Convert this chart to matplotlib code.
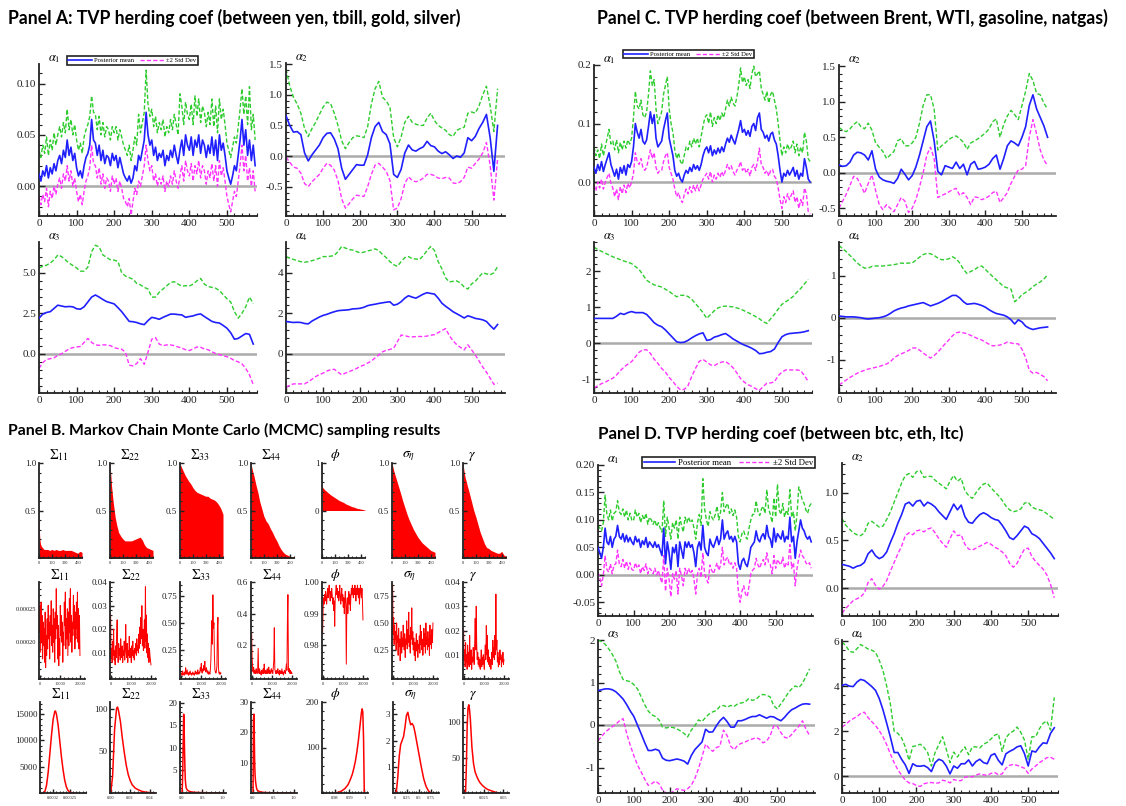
import numpy as np
import matplotlib
matplotlib.use('Agg')
import matplotlib.pyplot as plt
from matplotlib.ticker import AutoMinorLocator
from matplotlib.lines import Line2D

plt.rcParams['font.family'] = ['Liberation Serif', 'DejaVu Serif']
plt.rcParams['mathtext.fontset'] = 'stix'

# ------------------------------------------------------------------ data
# time index step used for the series below (observations)
STEP_FINE = 5
STEP = 10

# Panel A (yen, tbill, gold, silver)
A1_MEAN = [0.012, 0.005, 0.015, 0.010, 0.020, 0.008, 0.018, 0.012, 0.022, 0.015,
           0.025, 0.030, 0.022, 0.035, 0.028, 0.045, 0.030, 0.038, 0.025, 0.032,
           0.018, 0.010, 0.015, 0.008, 0.020, 0.028, 0.032, 0.040, 0.065, 0.045,
           0.042, 0.030, 0.040, 0.025, 0.035, 0.022, 0.030, 0.028, 0.020, 0.032,
           0.025, 0.030, 0.018, 0.028, 0.020, 0.012, 0.008, 0.005, 0.010, 0.003,
           0.008, 0.020, 0.015, 0.030, 0.025, 0.035, 0.045, 0.072, 0.050, 0.040,
           0.045, 0.030, 0.038, 0.025, 0.032, 0.028, 0.035, 0.020, 0.030, 0.025,
           0.035, 0.028, 0.040, 0.030, 0.022, 0.035, 0.045, 0.030, 0.050, 0.040,
           0.035, 0.048, 0.030, 0.045, 0.038, 0.050, 0.032, 0.045, 0.040, 0.028,
           0.040, 0.032, 0.048, 0.030, 0.045, 0.025, 0.050, 0.035, 0.042, 0.030,
           0.015, 0.008, 0.002, 0.010, 0.020, 0.015, 0.030, 0.045, 0.065, 0.040,
           0.055, 0.030, 0.045, 0.025, 0.040, 0.020]
A1_UP = [0.035, 0.028, 0.040, 0.032, 0.048, 0.030, 0.045, 0.035, 0.052, 0.040,
         0.050, 0.058, 0.048, 0.062, 0.052, 0.075, 0.055, 0.065, 0.050, 0.060,
         0.045, 0.035, 0.042, 0.032, 0.048, 0.055, 0.060, 0.068, 0.088, 0.072,
         0.070, 0.055, 0.068, 0.050, 0.062, 0.048, 0.058, 0.055, 0.045, 0.058,
         0.052, 0.058, 0.045, 0.055, 0.048, 0.040, 0.035, 0.030, 0.040, 0.025,
         0.035, 0.048, 0.040, 0.070, 0.052, 0.062, 0.072, 0.113, 0.080, 0.068,
         0.075, 0.058, 0.068, 0.052, 0.062, 0.055, 0.065, 0.048, 0.058, 0.052,
         0.065, 0.055, 0.070, 0.060, 0.050, 0.090, 0.078, 0.060, 0.082, 0.070,
         0.065, 0.080, 0.060, 0.088, 0.068, 0.085, 0.062, 0.078, 0.072, 0.058,
         0.072, 0.060, 0.085, 0.058, 0.078, 0.052, 0.085, 0.065, 0.075, 0.060,
         0.042, 0.035, 0.028, 0.038, 0.048, 0.042, 0.058, 0.075, 0.095, 0.070,
         0.088, 0.060, 0.097, 0.055, 0.070, 0.045]
A1_LO = [-0.010, -0.018, -0.008, -0.015, -0.002, -0.020, -0.005, -0.012, 0.000, -0.008,
         0.002, 0.008, -0.002, 0.012, 0.005, 0.020, 0.005, 0.015, 0.000, 0.008,
         -0.005, -0.015, -0.008, -0.018, -0.005, 0.005, 0.010, 0.018, 0.040, 0.022,
         0.020, 0.008, 0.018, 0.002, 0.012, -0.002, 0.008, 0.005, -0.005, 0.010,
         0.002, 0.008, -0.005, 0.005, -0.002, -0.012, -0.015, -0.020, -0.012, -0.028,
         -0.015, -0.002, -0.008, 0.005, 0.000, 0.010, 0.020, 0.040, 0.025, 0.015,
         0.020, 0.005, 0.012, 0.000, 0.008, 0.002, 0.010, -0.005, 0.005, 0.000,
         0.010, 0.002, 0.015, 0.005, -0.002, 0.010, 0.020, 0.005, 0.025, 0.015,
         0.010, 0.022, 0.005, 0.020, 0.012, 0.025, 0.008, 0.020, 0.015, 0.002,
         0.015, 0.008, 0.022, 0.005, 0.020, 0.000, 0.025, 0.010, 0.018, 0.005,
         -0.010, -0.018, -0.025, -0.015, -0.005, -0.010, 0.005, 0.020, 0.040, 0.015,
         0.030, 0.005, 0.018, 0.000, 0.015, -0.005]

A2_MEAN = [0.66, 0.50, 0.39, 0.40, 0.35, 0.05, -0.08, 0.02, 0.10, 0.18,
           0.30, 0.37, 0.38, 0.28, 0.12, -0.20, -0.38, -0.30, -0.22, -0.14,
           -0.15, -0.15, 0.02, 0.30, 0.48, 0.55, 0.40, 0.35, 0.20, -0.30,
           -0.35, -0.22, 0.05, 0.18, 0.10, 0.08, 0.12, 0.15, 0.24, 0.17,
           0.15, 0.08, 0.04, 0.07, 0.02, -0.04, 0.00, -0.02, 0.05, 0.30,
           0.25, 0.32, 0.45, 0.55, 0.68, 0.30, -0.25, 0.50]
A2_UP = [1.42, 1.15, 0.96, 0.85, 0.70, 0.45, 0.32, 0.45, 0.55, 0.68,
         0.80, 0.88, 0.86, 0.70, 0.50, 0.25, 0.12, 0.22, 0.30, 0.33,
         0.32, 0.30, 0.48, 0.85, 1.10, 1.22, 0.96, 0.90, 0.80, 0.30,
         0.15, 0.31, 0.55, 0.65, 0.55, 0.52, 0.50, 0.50, 0.62, 0.70,
         0.58, 0.50, 0.46, 0.42, 0.35, 0.32, 0.42, 0.45, 0.47, 0.70,
         0.72, 0.70, 0.82, 1.00, 1.14, 0.82, 0.40, 1.10]
A2_LO = [-0.02, -0.10, -0.18, -0.20, -0.28, -0.45, -0.50, -0.42, -0.36, -0.30,
         -0.20, -0.12, -0.15, -0.23, -0.40, -0.70, -0.85, -0.78, -0.70, -0.64,
         -0.65, -0.66, -0.50, -0.30, -0.15, -0.12, -0.18, -0.25, -0.40, -0.88,
         -0.85, -0.70, -0.45, -0.34, -0.40, -0.42, -0.40, -0.36, -0.30, -0.30,
         -0.32, -0.36, -0.37, -0.35, -0.36, -0.44, -0.45, -0.42, -0.35, -0.18,
         -0.20, -0.12, -0.05, 0.05, 0.22, -0.15, -0.72, -0.05]

A3_MEAN = [2.20, 2.45, 2.55, 2.60, 2.80, 3.00, 2.95, 2.90, 2.92, 2.90,
           2.78, 2.75, 2.90, 3.20, 3.50, 3.63, 3.50, 3.35, 3.22, 3.15,
           3.08, 2.85, 2.60, 2.30, 2.00, 1.98, 1.93, 1.85, 1.80, 2.05,
           2.25, 2.20, 2.13, 2.25, 2.35, 2.45, 2.45, 2.42, 2.40, 2.25,
           2.30, 2.34, 2.42, 2.46, 2.30, 2.15, 2.00, 1.93, 1.90, 1.75,
           1.58, 1.30, 0.90, 0.95, 1.10, 1.25, 1.20, 0.60]
A3_UP = [5.30, 5.40, 5.47, 5.60, 5.80, 6.10, 6.00, 5.80, 5.60, 5.45,
         5.30, 5.10, 5.10, 5.35, 6.30, 6.70, 6.60, 6.10, 5.95, 5.80,
         5.78, 5.70, 5.00, 4.80, 4.70, 4.60, 4.35, 4.25, 4.10, 4.00,
         3.50, 3.50, 3.80, 4.00, 4.20, 4.40, 4.45, 4.30, 4.18, 4.20,
         4.18, 4.30, 4.50, 4.65, 4.30, 4.15, 4.10, 4.05, 3.90, 3.65,
         3.40, 3.20, 2.60, 2.20, 2.50, 2.90, 3.50, 3.10]
A3_LO = [-0.90, -0.55, -0.35, -0.30, -0.25, -0.10, 0.00, 0.15, 0.30, 0.38,
         0.42, 0.45, 0.70, 0.95, 0.70, 0.55, 0.52, 0.55, 0.55, 0.50,
         0.38, 0.32, 0.28, 0.10, -0.70, -0.75, -0.60, -0.30, -0.65, 0.10,
         0.90, 1.00, 0.60, 0.50, 0.55, 0.55, 0.50, 0.42, 0.35, 0.25,
         0.20, 0.30, 0.42, 0.40, 0.30, 0.25, 0.12, 0.02, -0.05, -0.12,
         -0.18, -0.28, -0.42, -0.50, -0.62, -0.90, -1.30, -1.90]

A4_MEAN = [1.60, 1.57, 1.55, 1.56, 1.55, 1.50, 1.48, 1.62, 1.72, 1.82,
           1.90, 1.95, 2.02, 2.08, 2.13, 2.15, 2.16, 2.18, 2.22, 2.23,
           2.25, 2.30, 2.38, 2.42, 2.45, 2.49, 2.52, 2.55, 2.57, 2.40,
           2.45, 2.57, 2.75, 2.87, 2.80, 2.75, 2.85, 2.95, 3.02, 2.98,
           2.95, 2.75, 2.50, 2.35, 2.22, 2.08, 1.98, 1.88, 1.77, 1.88,
           1.82, 1.75, 1.72, 1.68, 1.60, 1.40, 1.22, 1.45]
A4_UP = [4.80, 4.72, 4.66, 4.60, 4.55, 4.52, 4.55, 4.60, 4.65, 4.72,
         4.80, 4.80, 4.82, 4.85, 5.05, 5.30, 5.22, 5.15, 5.12, 5.05,
         4.98, 5.02, 5.08, 5.12, 5.18, 5.10, 4.90, 4.75, 4.55, 4.40,
         4.32, 4.55, 4.75, 4.80, 4.70, 4.68, 4.66, 4.85, 5.10, 5.30,
         5.10, 4.55, 4.20, 3.75, 3.55, 3.58, 3.60, 3.50, 3.30, 3.20,
         3.45, 3.58, 3.80, 4.00, 3.95, 3.90, 4.00, 4.30]
A4_LO = [-1.65, -1.55, -1.48, -1.48, -1.48, -1.48, -1.38, -1.25, -1.12, -1.02,
         -0.95, -0.85, -0.78, -0.76, -0.90, -1.03, -0.95, -0.88, -0.80, -0.72,
         -0.62, -0.55, -0.45, -0.35, -0.20, -0.05, 0.10, 0.18, 0.22, 0.28,
         0.60, 0.93, 0.90, 0.85, 0.84, 0.85, 0.86, 0.85, 0.88, 0.92,
         0.95, 1.05, 1.15, 1.25, 0.90, 0.65, 0.45, 0.32, 0.20, 0.45,
         0.20, -0.05, -0.35, -0.65, -0.90, -1.20, -1.50, -1.45]

# Panel C (Brent, WTI, gasoline, natgas)
C1_MEAN = [0.025, 0.015, 0.030, 0.020, 0.035, 0.018, 0.030, 0.040, 0.050, 0.030,
           0.020, 0.010, 0.022, 0.005, 0.025, 0.015, 0.028, 0.012, 0.030, 0.025,
           0.035, 0.060, 0.100, 0.085, 0.075, 0.090, 0.070, 0.065, 0.072, 0.095,
           0.120, 0.100, 0.115, 0.075, 0.060, 0.065, 0.070, 0.090, 0.105, 0.118,
           0.075, 0.060, 0.045, 0.020, 0.010, 0.015, 0.005, 0.000, 0.012, 0.020,
           0.015, 0.025, 0.018, 0.030, 0.022, 0.028, 0.020, 0.030, 0.045, 0.055,
           0.060, 0.050, 0.062, 0.045, 0.055, 0.048, 0.058, 0.050, 0.060, 0.052,
           0.065, 0.075, 0.068, 0.080, 0.072, 0.065, 0.078, 0.090, 0.105, 0.085,
           0.090, 0.080, 0.088, 0.078, 0.095, 0.100, 0.088, 0.110, 0.118, 0.090,
           0.085, 0.075, 0.080, 0.070, 0.082, 0.085, 0.072, 0.065, 0.045, 0.020,
           0.000, 0.015, 0.010, 0.020, 0.012, 0.018, 0.025, 0.010, 0.020, 0.005,
           0.015, 0.010, 0.040, 0.025, 0.005, 0.000]
C1_UP = [0.060, 0.045, 0.055, 0.040, 0.065, 0.045, 0.060, 0.075, 0.090, 0.065,
         0.070, 0.055, 0.072, 0.050, 0.068, 0.055, 0.070, 0.058, 0.072, 0.065,
         0.075, 0.110, 0.155, 0.130, 0.125, 0.140, 0.115, 0.110, 0.120, 0.150,
         0.190, 0.165, 0.175, 0.125, 0.100, 0.110, 0.120, 0.150, 0.165, 0.180,
         0.125, 0.100, 0.085, 0.055, 0.040, 0.050, 0.035, 0.030, 0.045, 0.060,
         0.055, 0.070, 0.060, 0.075, 0.065, 0.075, 0.060, 0.078, 0.095, 0.110,
         0.115, 0.100, 0.120, 0.095, 0.110, 0.100, 0.115, 0.105, 0.118, 0.110,
         0.125, 0.140, 0.130, 0.145, 0.135, 0.130, 0.145, 0.165, 0.195, 0.170,
         0.180, 0.165, 0.175, 0.160, 0.185, 0.198, 0.180, 0.185, 0.190, 0.160,
         0.150, 0.140, 0.155, 0.135, 0.150, 0.155, 0.140, 0.125, 0.100, 0.070,
         0.045, 0.060, 0.050, 0.065, 0.055, 0.060, 0.070, 0.050, 0.065, 0.045,
         0.060, 0.050, 0.085, 0.070, 0.040, 0.035]
C1_LO = [-0.005, -0.015, 0.000, -0.010, 0.005, -0.012, 0.000, 0.008, 0.015, -0.002,
         -0.010, -0.025, -0.012, -0.030, -0.008, -0.020, -0.005, -0.018, -0.002, -0.010,
         0.000, 0.015, 0.050, 0.035, 0.030, 0.040, 0.025, 0.020, 0.025, 0.040,
         0.055, 0.040, 0.050, 0.025, 0.015, 0.020, 0.020, 0.035, 0.045, 0.050,
         0.025, 0.015, 0.005, -0.012, -0.025, -0.018, -0.030, -0.035, -0.022, -0.012,
         -0.020, -0.008, -0.018, -0.005, -0.015, -0.005, -0.015, -0.005, 0.005, 0.010,
         0.015, 0.005, 0.018, 0.000, 0.012, 0.005, 0.015, 0.008, 0.018, 0.010,
         0.020, 0.030, 0.022, 0.028, 0.018, 0.012, 0.020, 0.025, 0.035, 0.020,
         0.025, 0.015, 0.022, 0.010, 0.025, 0.030, 0.020, 0.035, 0.058, 0.030,
         0.025, 0.015, 0.020, 0.010, 0.020, 0.022, 0.010, 0.005, -0.010, -0.030,
         -0.045, -0.025, -0.035, -0.020, -0.030, -0.022, -0.015, -0.035, -0.025, -0.045,
         -0.030, -0.040, -0.010, -0.020, -0.050, -0.055]

C2_MEAN = [0.11, 0.09, 0.10, 0.15, 0.25, 0.29, 0.28, 0.25, 0.18, 0.31,
           0.05, -0.06, -0.10, -0.12, -0.13, -0.15, -0.08, 0.05, -0.02, -0.10,
           -0.04, 0.08, 0.25, 0.45, 0.65, 0.73, 0.45, 0.02, -0.03, 0.10,
           0.08, 0.06, 0.15, 0.06, 0.12, -0.03, 0.12, 0.16, 0.05, 0.06,
           0.08, 0.12, 0.20, 0.25, 0.05, 0.20, 0.38, 0.45, 0.42, 0.38,
           0.50, 0.65, 0.95, 1.10, 0.90, 0.78, 0.66, 0.50]
C2_UP = [0.64, 0.60, 0.58, 0.62, 0.68, 0.72, 0.65, 0.62, 0.70, 0.60,
         0.42, 0.36, 0.30, 0.20, 0.25, 0.30, 0.45, 0.48, 0.38, 0.38,
         0.42, 0.50, 0.70, 0.95, 1.10, 1.10, 0.90, 0.32, 0.38, 0.42,
         0.47, 0.50, 0.52, 0.48, 0.43, 0.33, 0.42, 0.45, 0.48, 0.52,
         0.56, 0.62, 0.72, 0.76, 0.50, 0.68, 0.80, 0.88, 0.82, 0.75,
         0.95, 1.15, 1.40, 1.30, 1.12, 1.10, 0.98, 0.90]
C2_LO = [-0.50, -0.40, -0.30, -0.18, -0.05, -0.08, -0.18, -0.29, -0.15, -0.03,
         -0.25, -0.45, -0.52, -0.45, -0.50, -0.55, -0.45, -0.35, -0.40, -0.56,
         -0.50, -0.38, -0.20, 0.00, 0.25, 0.36, 0.20, -0.35, -0.32, -0.30,
         -0.27, -0.24, -0.22, -0.32, -0.28, -0.35, -0.45, -0.34, -0.35, -0.38,
         -0.36, -0.33, -0.28, -0.26, -0.42, -0.35, -0.28, -0.15, -0.05, 0.04,
         0.05, 0.10, 0.50, 0.75, 0.55, 0.32, 0.18, 0.10]

C3_MEAN = [0.69, 0.69, 0.69, 0.69, 0.69, 0.69, 0.75, 0.83, 0.80, 0.85,
           0.88, 0.85, 0.85, 0.85, 0.80, 0.69, 0.57, 0.50, 0.46, 0.37,
           0.26, 0.15, 0.04, 0.02, 0.03, 0.08, 0.15, 0.21, 0.26, 0.29,
           0.08, 0.10, 0.17, 0.20, 0.24, 0.27, 0.20, 0.12, 0.06, 0.00,
           -0.05, -0.09, -0.14, -0.20, -0.29, -0.28, -0.25, -0.23, -0.16, 0.02,
           0.18, 0.24, 0.27, 0.28, 0.29, 0.30, 0.32, 0.35]
C3_UP = [2.67, 2.60, 2.55, 2.50, 2.45, 2.40, 2.36, 2.32, 2.28, 2.25,
         2.21, 2.13, 2.05, 1.90, 1.75, 1.68, 1.62, 1.59, 1.56, 1.50,
         1.44, 1.36, 1.29, 1.33, 1.33, 1.30, 1.22, 1.10, 0.98, 0.85,
         0.69, 0.80, 0.90, 0.98, 1.02, 1.03, 1.02, 1.01, 0.98, 0.95,
         0.90, 0.85, 0.80, 0.74, 0.68, 0.60, 0.55, 0.68, 0.80, 0.95,
         1.08, 1.15, 1.22, 1.30, 1.42, 1.52, 1.65, 1.77]
C3_LO = [-1.24, -1.18, -1.12, -1.08, -1.02, -0.97, -0.88, -0.76, -0.66, -0.58,
         -0.51, -0.38, -0.25, -0.18, -0.18, -0.28, -0.44, -0.56, -0.70, -0.80,
         -0.95, -1.06, -1.20, -1.29, -1.28, -1.18, -0.92, -0.70, -0.50, -0.45,
         -0.52, -0.60, -0.62, -0.56, -0.52, -0.51, -0.58, -0.68, -0.82, -0.98,
         -1.08, -1.15, -1.20, -1.26, -1.31, -1.20, -1.11, -1.10, -1.07, -0.90,
         -0.80, -0.74, -0.74, -0.74, -0.74, -0.76, -0.90, -1.06]

C4_MEAN = [0.04, 0.03, 0.02, 0.02, 0.02, 0.01, 0.00, -0.02, -0.03, -0.02,
           -0.01, 0.00, 0.02, 0.05, 0.10, 0.16, 0.20, 0.23, 0.25, 0.28,
           0.30, 0.32, 0.34, 0.36, 0.32, 0.28, 0.31, 0.34, 0.38, 0.43,
           0.48, 0.53, 0.53, 0.47, 0.38, 0.32, 0.33, 0.34, 0.32, 0.29,
           0.25, 0.19, 0.14, 0.10, 0.08, 0.06, 0.02, -0.05, -0.15, -0.05,
           -0.10, -0.20, -0.25, -0.28, -0.26, -0.24, -0.23, -0.22]
C4_UP = [1.72, 1.64, 1.57, 1.48, 1.39, 1.30, 1.23, 1.18, 1.18, 1.22,
         1.23, 1.23, 1.23, 1.24, 1.25, 1.26, 1.28, 1.30, 1.29, 1.30,
         1.30, 1.37, 1.44, 1.50, 1.53, 1.52, 1.48, 1.42, 1.38, 1.38,
         1.40, 1.45, 1.40, 1.30, 1.15, 1.05, 1.10, 1.14, 1.20, 1.23,
         1.15, 1.06, 0.98, 0.90, 0.82, 0.74, 0.71, 0.68, 0.38, 0.45,
         0.55, 0.60, 0.66, 0.74, 0.80, 0.85, 0.92, 1.02]
C4_LO = [-1.60, -1.54, -1.48, -1.42, -1.37, -1.32, -1.28, -1.25, -1.22, -1.20,
         -1.18, -1.16, -1.13, -1.10, -1.05, -0.96, -0.90, -0.86, -0.82, -0.78,
         -0.72, -0.72, -0.77, -0.84, -0.90, -0.96, -0.90, -0.82, -0.72, -0.62,
         -0.53, -0.43, -0.36, -0.34, -0.36, -0.38, -0.42, -0.46, -0.50, -0.53,
         -0.58, -0.63, -0.67, -0.66, -0.65, -0.62, -0.58, -0.60, -0.62, -0.62,
         -0.75, -0.95, -1.25, -1.32, -1.30, -1.35, -1.40, -1.50]

# Panel D (btc, eth, ltc)
D1_MEAN = [0.050, 0.040, 0.030, 0.050, 0.085, 0.060, 0.055, 0.070, 0.050, 0.065,
           0.070, 0.090, 0.070, 0.065, 0.075, 0.060, 0.072, 0.060, 0.068, 0.060,
           0.055, 0.070, 0.060, 0.065, 0.050, 0.062, 0.055, 0.068, 0.050, 0.060,
           0.055, 0.050, 0.060, 0.050, 0.055, 0.045, 0.035, 0.085, 0.020, 0.060,
           0.040, 0.010, 0.050, 0.040, 0.055, 0.015, 0.060, 0.045, 0.030, 0.060,
           0.050, 0.060, 0.050, 0.055, 0.040, 0.015, 0.050, 0.060, 0.045, 0.090,
           0.050, 0.040, 0.035, 0.065, 0.055, 0.050, 0.060, 0.070, 0.055, 0.065,
           0.100, 0.065, 0.075, 0.080, 0.065, 0.070, 0.060, 0.070, 0.060, 0.020,
           0.010, 0.025, 0.030, 0.020, 0.015, 0.030, 0.050, 0.055, 0.060, 0.080,
           0.065, 0.060, 0.070, 0.075, 0.065, 0.090, 0.070, 0.065, 0.050, 0.085,
           0.060, 0.075, 0.070, 0.065, 0.080, 0.060, 0.070, 0.065, 0.105, 0.060,
           0.070, 0.030, 0.060, 0.080, 0.100, 0.085, 0.080, 0.070, 0.065, 0.070,
           0.060]
D1_UP = [0.090, 0.085, 0.080, 0.095, 0.145, 0.110, 0.100, 0.118, 0.098, 0.112,
         0.115, 0.135, 0.115, 0.110, 0.120, 0.105, 0.118, 0.100, 0.112, 0.100,
         0.098, 0.118, 0.105, 0.112, 0.095, 0.108, 0.100, 0.112, 0.092, 0.105,
         0.100, 0.092, 0.100, 0.088, 0.095, 0.085, 0.078, 0.135, 0.070, 0.105,
         0.085, 0.065, 0.095, 0.085, 0.100, 0.065, 0.105, 0.090, 0.078, 0.105,
         0.095, 0.105, 0.095, 0.100, 0.085, 0.065, 0.095, 0.110, 0.090, 0.175,
         0.120, 0.100, 0.088, 0.115, 0.105, 0.100, 0.110, 0.125, 0.100, 0.115,
         0.150, 0.115, 0.125, 0.130, 0.112, 0.120, 0.108, 0.118, 0.105, 0.070,
         0.060, 0.075, 0.080, 0.070, 0.065, 0.085, 0.100, 0.110, 0.110, 0.135,
         0.115, 0.108, 0.120, 0.125, 0.112, 0.155, 0.120, 0.110, 0.095, 0.140,
         0.105, 0.165, 0.118, 0.110, 0.130, 0.105, 0.118, 0.110, 0.155, 0.105,
         0.115, 0.080, 0.110, 0.160, 0.150, 0.135, 0.130, 0.118, 0.112, 0.125,
         0.130]
D1_LO = [0.005, -0.005, -0.020, 0.000, 0.035, 0.010, 0.005, 0.020, 0.002, 0.018,
         0.020, 0.045, 0.020, 0.015, 0.028, 0.012, 0.025, 0.010, 0.022, 0.010,
         0.008, 0.022, 0.012, 0.018, 0.002, 0.015, 0.008, 0.020, 0.002, 0.012,
         0.008, 0.002, 0.012, 0.000, 0.008, -0.005, -0.015, 0.035, -0.030, 0.012,
         -0.008, -0.040, 0.002, -0.008, 0.008, -0.035, 0.012, -0.002, -0.020, 0.012,
         0.002, 0.012, 0.002, 0.008, -0.008, -0.035, 0.002, 0.012, -0.005, 0.040,
         0.002, -0.008, -0.015, 0.018, 0.008, 0.002, 0.012, 0.022, 0.008, 0.018,
         0.050, 0.018, 0.028, 0.032, 0.018, 0.022, 0.012, 0.022, 0.012, -0.030,
         -0.050, -0.030, -0.020, -0.035, -0.040, -0.020, 0.002, 0.008, 0.012, 0.030,
         0.018, 0.012, 0.022, 0.028, 0.018, 0.040, 0.022, 0.018, 0.002, 0.035,
         0.012, 0.028, 0.022, 0.018, 0.032, 0.012, 0.022, 0.018, 0.055, 0.012,
         0.022, -0.020, 0.012, 0.030, 0.045, 0.035, 0.030, 0.022, 0.018, 0.022,
         0.012]

D2_MEAN = [0.25, 0.24, 0.23, 0.21, 0.23, 0.24, 0.27, 0.36, 0.40, 0.34,
           0.31, 0.33, 0.38, 0.48, 0.57, 0.68, 0.77, 0.88, 0.90, 0.86,
           0.91, 0.92, 0.86, 0.90, 0.88, 0.85, 0.80, 0.76, 0.72, 0.80,
           0.88, 0.82, 0.87, 0.75, 0.69, 0.68, 0.73, 0.77, 0.79, 0.77,
           0.74, 0.72, 0.71, 0.66, 0.60, 0.53, 0.51, 0.55, 0.60, 0.65,
           0.63, 0.57, 0.55, 0.52, 0.47, 0.42, 0.37, 0.31]
D2_UP = [0.73, 0.66, 0.62, 0.58, 0.56, 0.55, 0.58, 0.68, 0.70, 0.67,
         0.64, 0.65, 0.72, 0.80, 0.90, 1.00, 1.10, 1.18, 1.20, 1.16,
         1.22, 1.23, 1.16, 1.17, 1.17, 1.13, 1.10, 1.07, 1.04, 1.12,
         1.18, 1.12, 1.15, 1.02, 0.97, 0.94, 1.00, 1.05, 1.09, 1.10,
         1.05, 1.01, 0.97, 0.92, 0.86, 0.82, 0.80, 0.81, 0.83, 0.89,
         0.90, 0.85, 0.83, 0.82, 0.81, 0.78, 0.75, 0.72]
D2_LO = [-0.26, -0.21, -0.17, -0.13, -0.11, -0.09, -0.05, 0.06, 0.10, 0.03,
         -0.01, 0.02, 0.08, 0.18, 0.27, 0.36, 0.44, 0.55, 0.58, 0.56,
         0.60, 0.61, 0.59, 0.62, 0.63, 0.58, 0.52, 0.47, 0.43, 0.52,
         0.60, 0.55, 0.56, 0.46, 0.41, 0.40, 0.42, 0.44, 0.46, 0.48,
         0.46, 0.43, 0.41, 0.38, 0.34, 0.26, 0.22, 0.26, 0.34, 0.41,
         0.42, 0.33, 0.28, 0.24, 0.20, 0.14, 0.04, -0.10]

D3_MEAN = [0.81, 0.83, 0.85, 0.85, 0.83, 0.78, 0.70, 0.61, 0.48, 0.33,
           0.20, 0.00, -0.20, -0.41, -0.60, -0.60, -0.57, -0.60, -0.78, -0.83,
           -0.84, -0.82, -0.80, -0.82, -0.85, -0.92, -0.72, -0.58, -0.49, -0.40,
           -0.10, -0.17, -0.16, -0.02, 0.10, 0.18, 0.08, -0.05, -0.05, 0.10,
           0.10, 0.13, 0.17, 0.20, 0.20, 0.24, 0.20, 0.16, 0.20, 0.19,
           0.14, 0.10, 0.18, 0.28, 0.36, 0.40, 0.45, 0.49, 0.50, 0.49]
D3_UP = [2.00, 1.96, 1.90, 1.79, 1.66, 1.50, 1.25, 1.07, 1.04, 1.02,
         0.95, 0.85, 0.67, 0.48, 0.33, 0.24, 0.20, 0.12, -0.05, -0.07,
         -0.05, -0.06, -0.09, -0.14, -0.20, -0.28, -0.12, -0.02, 0.12, 0.08,
         0.18, 0.26, 0.31, 0.34, 0.44, 0.46, 0.42, 0.46, 0.44, 0.50,
         0.52, 0.54, 0.62, 0.58, 0.60, 0.68, 0.72, 0.70, 0.66, 0.45,
         0.38, 0.50, 0.62, 0.75, 0.85, 0.92, 0.88, 0.98, 1.15, 1.32]
D3_LO = [-0.37, -0.27, -0.17, -0.10, -0.04, 0.02, 0.10, 0.15, -0.20, -0.48,
         -0.72, -0.94, -1.10, -1.27, -1.42, -1.38, -1.32, -1.38, -1.53, -1.60,
         -1.62, -1.56, -1.50, -1.52, -1.54, -1.50, -1.42, -1.26, -1.03, -0.75,
         -0.45, -0.55, -0.62, -0.53, -0.50, -0.12, -0.25, -0.50, -0.58, -0.47,
         -0.43, -0.40, -0.36, -0.33, -0.30, -0.33, -0.42, -0.38, -0.25, -0.02,
         -0.03, -0.18, -0.29, -0.31, -0.22, -0.12, -0.03, 0.10, -0.10, -0.25]

D4_MEAN = [4.03, 4.08, 4.00, 3.98, 4.18, 4.30, 4.25, 4.12, 3.98, 3.81,
           3.45, 2.95, 2.35, 1.73, 1.05, 1.05, 0.75, 0.50, 0.12, 0.55,
           0.45, 0.44, 0.47, 0.38, 0.20, 0.60, 0.75, 0.68, 0.45, 0.10,
           0.45, 0.35, 0.55, 0.55, 0.72, 0.45, 0.65, 0.75, 0.60, 0.55,
           0.92, 1.00, 0.70, 0.50, 0.99, 1.10, 1.18, 1.30, 1.35, 1.00,
           0.45, 1.12, 1.07, 1.30, 1.48, 1.45, 1.90, 2.15]
D4_UP = [5.96, 5.80, 5.55, 5.50, 5.66, 5.85, 5.75, 5.65, 5.60, 5.50,
         5.15, 4.70, 4.00, 3.20, 2.00, 1.90, 1.70, 1.30, 0.70, 1.32,
         1.35, 1.42, 1.28, 1.05, 0.45, 1.05, 1.40, 1.75, 1.20, 0.60,
         1.07, 0.85, 1.10, 1.30, 0.95, 1.30, 1.30, 1.25, 1.42, 1.50,
         1.65, 1.82, 1.88, 1.10, 1.70, 1.90, 2.00, 2.18, 1.95, 1.60,
         0.75, 1.75, 1.75, 2.10, 2.35, 2.45, 2.05, 3.50]
D4_LO = [2.18, 2.30, 2.45, 2.55, 2.65, 2.78, 2.84, 2.60, 2.42, 2.25,
         2.02, 1.75, 1.40, 0.98, 0.60, 0.28, 0.05, -0.18, -0.30, -0.33,
         -0.42, -0.46, -0.34, -0.30, -0.28, -0.32, -0.30, -0.18, -0.22, -0.30,
         -0.15, -0.20, -0.20, -0.05, -0.02, -0.03, 0.05, 0.10, 0.06, 0.03,
         0.12, 0.16, 0.06, 0.10, 0.35, 0.48, 0.52, 0.48, 0.42, 0.35,
         0.12, 0.32, 0.45, 0.60, 0.70, 0.82, 0.84, 0.75]

# Panel B: MCMC results
PARAM_TITLES = [r'$\Sigma_{11}$', r'$\Sigma_{22}$', r'$\Sigma_{33}$', r'$\Sigma_{44}$',
                r'$\phi$', r'$\sigma_\eta$', r'$\gamma$']

ACF_LAGS = [0, 2, 5, 10, 15, 20, 30, 40, 50, 60, 80, 100, 125, 150, 175, 200,
            225, 250, 275, 300, 325, 350, 375, 400, 425, 450, 475, 500]
ACF_VALUES = [
    [0.77, 0.45, 0.28, 0.20, 0.16, 0.14, 0.12, 0.11, 0.10, 0.09, 0.09, 0.09, 0.08, 0.09,
     0.08, 0.09, 0.08, 0.08, 0.09, 0.08, 0.08, 0.08, 0.08, 0.07, 0.06, 0.05, 0.07, 0.06],
    [1.00, 0.98, 0.93, 0.87, 0.80, 0.74, 0.65, 0.57, 0.50, 0.43, 0.34, 0.27, 0.23, 0.20,
     0.18, 0.18, 0.18, 0.18, 0.19, 0.20, 0.21, 0.22, 0.19, 0.14, 0.11, 0.10, 0.09, 0.08],
    [1.00, 0.99, 0.98, 0.97, 0.96, 0.95, 0.93, 0.91, 0.89, 0.87, 0.84, 0.81, 0.78, 0.74,
     0.71, 0.69, 0.68, 0.67, 0.66, 0.65, 0.65, 0.63, 0.62, 0.61, 0.59, 0.56, 0.52, 0.46],
    [1.00, 0.99, 0.97, 0.95, 0.93, 0.91, 0.88, 0.84, 0.80, 0.76, 0.69, 0.60, 0.52, 0.44,
     0.39, 0.36, 0.31, 0.27, 0.22, 0.18, 0.13, 0.09, 0.06, 0.04, 0.03, 0.02, 0.01, 0.01],
    [0.82, 0.55, 0.50, 0.48, 0.47, 0.46, 0.44, 0.42, 0.41, 0.39, 0.36, 0.33, 0.30, 0.27,
     0.24, 0.21, 0.19, 0.17, 0.14, 0.12, 0.10, 0.08, 0.07, 0.05, 0.04, 0.03, 0.02, 0.01],
    [1.00, 0.99, 0.98, 0.96, 0.94, 0.92, 0.89, 0.86, 0.83, 0.80, 0.74, 0.68, 0.60, 0.53,
     0.46, 0.40, 0.35, 0.30, 0.26, 0.22, 0.19, 0.16, 0.14, 0.12, 0.10, 0.08, 0.07, 0.06],
    [1.00, 0.98, 0.96, 0.93, 0.90, 0.87, 0.83, 0.80, 0.76, 0.73, 0.66, 0.59, 0.50, 0.43,
     0.35, 0.27, 0.21, 0.15, 0.11, 0.10, 0.08, 0.07, 0.06, 0.05, 0.05, 0.07, 0.03, 0.02],
]

TRACE_STEP = 250   # iterations between stored draws shown
TRACE_SIGMA11 = [2.15, 2.55, 1.85, 2.60, 2.00, 2.40, 1.75, 2.30, 1.95, 2.20,
                 1.70, 2.45, 1.62, 2.10, 1.80, 2.35, 1.90, 2.55, 2.05, 2.30,
                 1.75, 2.40, 2.10, 2.62, 1.95, 2.25, 1.85, 2.50, 2.00, 2.35,
                 1.70, 2.45, 2.05, 2.80, 2.20, 2.40, 1.75, 2.25, 1.65, 2.05,
                 1.80, 2.55, 2.10, 2.40, 2.00, 2.30, 1.70, 2.15, 1.95, 2.60,
                 2.25, 2.75, 1.90, 2.35, 2.05, 2.50, 1.80, 2.45, 1.95, 2.65,
                 2.15, 2.80, 2.00, 2.40, 1.85, 2.30, 2.10, 2.70, 2.20, 2.55,
                 1.90, 2.45, 2.05, 2.60, 2.20, 2.75, 2.00, 2.50, 1.90, 2.40, 1.80]  # x1e-4
TRACE_SIGMA22 = [0.026, 0.008, 0.012, 0.006, 0.015, 0.009, 0.020, 0.007, 0.011, 0.005,
                 0.013, 0.008, 0.018, 0.024, 0.010, 0.006, 0.014, 0.009, 0.012, 0.007,
                 0.016, 0.010, 0.008, 0.013, 0.006, 0.011, 0.009, 0.015, 0.007, 0.012,
                 0.022, 0.010, 0.008, 0.014, 0.006, 0.011, 0.009, 0.017, 0.008, 0.012,
                 0.010, 0.006, 0.013, 0.009, 0.015, 0.008, 0.011, 0.007, 0.012, 0.010,
                 0.014, 0.009, 0.016, 0.011, 0.013, 0.010, 0.018, 0.012, 0.021, 0.014,
                 0.025, 0.016, 0.030, 0.013, 0.020, 0.011, 0.017, 0.024, 0.012, 0.038,
                 0.015, 0.026, 0.010, 0.018, 0.008, 0.014, 0.006, 0.012, 0.009, 0.007, 0.005]
TRACE_SIGMA33 = [0.04, 0.02, 0.03, 0.01, 0.05, 0.02, 0.03, 0.01, 0.04, 0.02,
                 0.08, 0.03, 0.02, 0.06, 0.02, 0.03, 0.01, 0.04, 0.02, 0.05,
                 0.02, 0.03, 0.01, 0.02, 0.04, 0.02, 0.03, 0.01, 0.02, 0.05,
                 0.03, 0.02, 0.04, 0.02, 0.06, 0.03, 0.02, 0.04, 0.03, 0.08,
                 0.05, 0.12, 0.04, 0.03, 0.07, 0.05, 0.10, 0.06, 0.14, 0.05,
                 0.04, 0.08, 0.06, 0.03, 0.05, 0.02, 0.03, 0.04, 0.02, 0.06,
                 0.15, 0.35, 0.52, 0.30, 0.76, 0.45, 0.50, 0.20, 0.06, 0.04,
                 0.03, 0.05, 0.10, 0.45, 0.55, 0.08, 0.03, 0.02, 0.04, 0.02, 0.03]
TRACE_SIGMA44 = [0.28, 0.12, 0.05, 0.03, 0.06, 0.02, 0.04, 0.03, 0.02, 0.05,
                 0.03, 0.02, 0.04, 0.18, 0.03, 0.02, 0.05, 0.02, 0.03, 0.01,
                 0.04, 0.02, 0.03, 0.05, 0.02, 0.08, 0.03, 0.02, 0.04, 0.02,
                 0.03, 0.05, 0.02, 0.03, 0.06, 0.02, 0.04, 0.03, 0.02, 0.05,
                 0.03, 0.04, 0.02, 0.06, 0.10, 0.31, 0.05, 0.03, 0.02, 0.04,
                 0.02, 0.03, 0.05, 0.02, 0.03, 0.01, 0.04, 0.02, 0.03, 0.02,
                 0.05, 0.02, 0.03, 0.01, 0.02, 0.04, 0.03, 0.02, 0.05, 0.08,
                 0.04, 0.36, 0.52, 0.06, 0.03, 0.05, 0.02, 0.04, 0.02, 0.03, 0.02]
TRACE_PHI = [0.984, 0.992, 0.995, 0.993, 0.996, 0.994, 0.997, 0.995, 0.993, 0.996,
             0.998, 0.995, 0.997, 0.999, 0.996, 0.994, 0.997, 0.995, 0.998, 0.996,
             0.993, 0.995, 0.991, 0.994, 0.986, 0.995, 0.997, 0.999, 0.996, 0.998,
             0.995, 0.997, 0.994, 0.996, 0.999, 0.995, 0.993, 0.996, 0.998, 0.994,
             0.996, 0.992, 0.995, 0.990, 0.994, 0.997, 0.993, 0.974, 0.992, 0.995,
             0.990, 0.994, 0.997, 0.993, 0.996, 0.991, 0.995, 0.998, 0.996, 0.999,
             0.997, 0.995, 0.998, 0.996, 0.999, 0.997, 0.994, 0.998, 0.996, 0.999,
             0.997, 0.995, 0.998, 0.993, 0.996, 0.999, 0.997, 0.995, 0.998, 0.994, 0.988]
TRACE_SIGETA = [0.85, 0.40, 0.55, 0.30, 0.48, 0.35, 0.42, 0.25, 0.50, 0.32,
                0.38, 0.20, 0.45, 0.28, 0.35, 0.15, 0.30, 0.42, 0.22, 0.36,
                0.28, 0.48, 0.33, 0.25, 0.40, 0.18, 0.35, 0.30, 0.52, 0.26,
                0.44, 0.32, 0.60, 0.28, 0.38, 0.22, 0.46, 0.35, 0.64, 0.30,
                0.42, 0.25, 0.36, 0.20, 0.32, 0.15, 0.28, 0.40, 0.24, 0.34,
                0.18, 0.30, 0.26, 0.38, 0.22, 0.48, 0.30, 0.42, 0.25, 0.35,
                0.20, 0.32, 0.45, 0.28, 0.40, 0.22, 0.50, 0.30, 0.36, 0.25,
                0.42, 0.28, 0.35, 0.20, 0.48, 0.30, 0.38, 0.26, 0.44, 0.32, 0.50]
TRACE_GAMMA = [0.020, 0.008, 0.012, 0.005, 0.015, 0.007, 0.010, 0.004, 0.014, 0.006,
               0.011, 0.005, 0.018, 0.008, 0.006, 0.012, 0.004, 0.009, 0.007, 0.013,
               0.010, 0.006, 0.015, 0.025, 0.012, 0.030, 0.014, 0.008, 0.011, 0.006,
               0.009, 0.005, 0.008, 0.004, 0.007, 0.012, 0.005, 0.009, 0.006, 0.010,
               0.007, 0.004, 0.009, 0.014, 0.008, 0.022, 0.010, 0.018, 0.007, 0.012,
               0.006, 0.009, 0.005, 0.008, 0.004, 0.007, 0.011, 0.006, 0.016, 0.009,
               0.013, 0.008, 0.018, 0.010, 0.035, 0.012, 0.016, 0.007, 0.011, 0.005,
               0.009, 0.006, 0.012, 0.008, 0.010, 0.005, 0.009, 0.007, 0.011, 0.006, 0.008]

DENS_SIGMA11_X = [1.70, 1.75, 1.80, 1.85, 1.90, 1.95, 2.00, 2.05, 2.07, 2.10, 2.15,
                  2.20, 2.25, 2.30, 2.35, 2.40, 2.45, 2.50, 2.55, 2.60, 2.65]  # x1e-4
DENS_SIGMA11_Y = [0, 300, 1500, 4000, 7500, 11000, 14000, 15500, 15600, 15000, 13000,
                  10000, 7000, 4500, 2500, 1200, 500, 200, 80, 20, 0]
DENS_SIGMA22_X = [0.000, 0.002, 0.004, 0.006, 0.007, 0.008, 0.010, 0.012, 0.014, 0.016,
                  0.018, 0.020, 0.022, 0.025, 0.028, 0.032, 0.036, 0.040, 0.045]
DENS_SIGMA22_Y = [0, 20, 75, 100, 102, 98, 85, 65, 48, 33, 22, 15, 10, 6, 4, 2, 1, 0.5, 0]
DENS_SIGMA33_X = [0.0, 0.01, 0.02, 0.03, 0.04, 0.05, 0.06, 0.07, 0.08, 0.09, 0.10,
                  0.12, 0.15, 0.2, 0.3, 0.5, 0.7, 0.9, 1.0]
DENS_SIGMA33_Y = [0, 2, 6, 12, 17.5, 16, 10, 6, 3, 2, 1.2, 0.8, 0.5, 0.3, 0.15, 0.08,
                  0.05, 0.03, 0.02]
DENS_SIGMA44_X = [0.0, 0.005, 0.01, 0.02, 0.03, 0.04, 0.05, 0.06, 0.08, 0.1, 0.15, 0.2,
                  0.3, 0.5, 0.7, 1.0]
DENS_SIGMA44_Y = [0, 10, 24, 26, 20, 10, 6, 4, 2, 1, 0.5, 0.3, 0.15, 0.06, 0.03, 0.01]
DENS_PHI_X = [0.980, 0.983, 0.985, 0.987, 0.989, 0.990, 0.991, 0.992, 0.993, 0.994,
              0.995, 0.996, 0.997, 0.998, 0.9985, 0.999, 0.9995, 1.000]
DENS_PHI_Y = [0, 2, 5, 10, 18, 25, 33, 42, 55, 70, 90, 115, 145, 175, 185, 178, 120, 0]
DENS_SIGETA_X = [0.0, 0.03, 0.06, 0.09, 0.12, 0.15, 0.18, 0.21, 0.24, 0.27, 0.30, 0.33,
                 0.36, 0.39, 0.42, 0.45, 0.50, 0.55, 0.60, 0.65, 0.70, 0.75]
DENS_SIGETA_Y = [0, 0.05, 0.6, 1.4, 1.85, 2.0, 2.15, 2.5, 2.95, 3.08, 2.8, 2.6, 2.65,
                 2.55, 2.3, 2.0, 1.5, 1.0, 0.55, 0.25, 0.08, 0.0]
DENS_GAMMA_X = [0.000, 0.002, 0.003, 0.004, 0.005, 0.006, 0.007, 0.008, 0.009, 0.010,
                0.012, 0.014, 0.016, 0.018, 0.020, 0.023, 0.026, 0.030, 0.035, 0.040, 0.045]
DENS_GAMMA_Y = [0, 2, 40, 95, 120, 125, 118, 105, 85, 65, 42, 30, 24, 19, 15, 11, 8, 5,
                3, 1, 0]

# ------------------------------------------------------------------ figure
W, H = 1126, 806
fig = plt.figure(figsize=(W / 100, H / 100), dpi=100)

BLUE = '#2020ff'
GREEN = '#2ecc2e'
MAGENTA = '#ff33ff'
GRAY = '#ababab'
RED = '#ff0000'
DASH = (0, (3, 1.6))


def add_ax(l, t, r, b):
    return fig.add_axes([l / W, 1 - b / H, (r - l) / W, (b - t) / H])


def style(ax, xlim, ylim, xticks, xlabels, yticks, ylabels, fs=8, xfs=None,
          xminor=5, yminor=5, major_len=4):
    ax.set_xlim(xlim)
    ax.set_ylim(ylim)
    ax.patch.set_alpha(0)
    for s in ('top', 'right'):
        ax.spines[s].set_visible(False)
    for s in ('left', 'bottom'):
        ax.spines[s].set_linewidth(1.3)
        ax.spines[s].set_color('#222222')
    ax.set_xticks(xticks)
    ax.set_xticklabels(xlabels)
    ax.set_yticks(yticks)
    ax.set_yticklabels(ylabels)
    if xminor:
        ax.xaxis.set_minor_locator(AutoMinorLocator(xminor))
    if yminor:
        ax.yaxis.set_minor_locator(AutoMinorLocator(yminor))
    ax.tick_params(which='both', direction='in', pad=2, colors='#222222')
    ax.tick_params(axis='y', labelsize=fs)
    ax.tick_params(axis='x', labelsize=xfs if xfs else fs)
    ax.tick_params(which='major', length=major_len, width=1)
    ax.tick_params(which='minor', length=major_len * 0.5, width=0.8)


TS_XT = [0, 100, 200, 300, 400, 500]
TS_XL = ['0', '100', '200', '300', '400', '500']


def tvp(box, step, mean, up, lo, xmax, ylim, yticks, ylabels, label):
    ax = add_ax(*box)
    ax.axhline(0, color=GRAY, lw=1.8, zorder=1)
    ax.plot(step * np.arange(len(up)), up, color=GREEN, lw=1.0, ls=DASH, zorder=2)
    ax.plot(step * np.arange(len(lo)), lo, color=MAGENTA, lw=1.0, ls=DASH, zorder=2)
    ax.plot(step * np.arange(len(mean)), mean, color=BLUE, lw=1.2, zorder=3)
    style(ax, (0, xmax), ylim, TS_XT, TS_XL, yticks, ylabels)
    ax.text(0.04, 1.03, label, transform=ax.transAxes, fontsize=9, ha='left',
            va='center')
    return ax


def add_legend(ax, x0, y0, fs):
    handles = [Line2D([], [], color=BLUE, lw=1.2),
               Line2D([], [], color=MAGENTA, lw=1.0, ls=DASH)]
    leg = ax.legend(handles, ['Posterior mean', '\u00b12 Std Dev'], loc='upper left',
                    bbox_to_anchor=(x0, y0), ncol=2, fontsize=fs, frameon=True,
                    fancybox=False, edgecolor='#222222', framealpha=1,
                    borderpad=0.2, handlelength=3.6, handletextpad=0.3,
                    columnspacing=0.9, borderaxespad=0)
    leg.get_frame().set_linewidth(1.2)
    leg.set_zorder(10)


# ---- Panel titles
TITLE_FONT = ['Lato', 'DejaVu Sans']
fig.text(8 / W, 1 - 18 / H, 'Panel A: TVP herding coef (between yen, tbill, gold, silver)',
         fontsize=12.7, fontweight='bold', family=TITLE_FONT, va='center', ha='left')
fig.text(597 / W, 1 - 18 / H, 'Panel C. TVP herding coef (between Brent, WTI, gasoline, natgas)',
         fontsize=12.7, fontweight='bold', family=TITLE_FONT, va='center', ha='left')
fig.text(8 / W, 1 - 430 / H, 'Panel B. Markov Chain Monte Carlo (MCMC) sampling results',
         fontsize=11.3, fontweight='bold', family=TITLE_FONT, va='center', ha='left')
fig.text(598 / W, 1 - 434 / H, 'Panel D. TVP herding coef (between btc, eth, ltc)',
         fontsize=12.2, fontweight='bold', family=TITLE_FONT, va='center', ha='left')

# ---- Panel A
ax = tvp((39, 64, 257, 216), STEP_FINE, A1_MEAN, A1_UP, A1_LO, 580, (-0.029, 0.119),
         [0, 0.05, 0.10], ['0.00', '0.05', '0.10'], r'$\alpha_1$')
add_legend(ax, 0.128, 1.05, 4.8)
tvp((286, 63, 505, 216), STEP, A2_MEAN, A2_UP, A2_LO, 590, (-0.98, 1.52),
    [-0.5, 0, 0.5, 1.0, 1.5], ['-0.5', '0.0', '0.5', '1.0', '1.5'], r'$\alpha_2$')
tvp((39, 242, 257, 393), STEP, A3_MEAN, A3_UP, A3_LO, 580, (-2.42, 6.9),
    [0, 2.5, 5.0], ['0.0', '2.5', '5.0'], r'$\alpha_3$')
tvp((286, 242, 505, 393), STEP, A4_MEAN, A4_UP, A4_LO, 590, (-1.93, 5.52),
    [0, 2, 4], ['0', '2', '4'], r'$\alpha_4$')

# ---- Panel C
ax = tvp((594, 65, 812, 216), STEP_FINE, C1_MEAN, C1_UP, C1_LO, 580, (-0.058, 0.2),
         [0, 0.1, 0.2], ['0.0', '0.1', '0.2'], r'$\alpha_1$')
add_legend(ax, 0.133, 1.10, 4.8)
tvp((839, 65, 1056, 216), STEP, C2_MEAN, C2_UP, C2_LO, 593, (-0.61, 1.52),
    [-0.5, 0, 0.5, 1.0, 1.5], ['-0.5', '0.0', '0.5', '1.0', '1.5'], r'$\alpha_2$')
tvp((594, 242, 812, 393), STEP, C3_MEAN, C3_UP, C3_LO, 580, (-1.38, 2.81),
    [-1, 0, 1, 2], ['-1', '0', '1', '2'], r'$\alpha_3$')
tvp((839, 242, 1056, 393), STEP, C4_MEAN, C4_UP, C4_LO, 593, (-1.79, 1.8),
    [-1, 0, 1], ['-1', '0', '1'], r'$\alpha_4$')

# ---- Panel D
ax = tvp((598, 465, 813, 616), STEP_FINE, D1_MEAN, D1_UP, D1_LO, 605, (-0.075, 0.2),
         [-0.05, 0, 0.05, 0.10, 0.15, 0.20], ['-0.05', '0.00', '0.05', '0.10', '0.15', '0.20'],
         r'$\alpha_1$')
add_legend(ax, 0.205, 1.055, 6.3)
tvp((842, 463, 1058, 616), STEP, D2_MEAN, D2_UP, D2_LO, 580, (-0.29, 1.31),
    [0, 0.5, 1.0], ['0.0', '0.5', '1.0'], r'$\alpha_2$')
tvp((598, 640, 815, 793), STEP, D3_MEAN, D3_UP, D3_LO, 605, (-1.6, 2.0),
    [-1, 0, 1, 2], ['-1', '0', '1', '2'], r'$\alpha_3$')
tvp((842, 640, 1058, 793), STEP, D4_MEAN, D4_UP, D4_LO, 580, (-0.75, 6.05),
    [0, 2, 4, 6], ['0', '2', '4', '6'], r'$\alpha_4$')

# ---- Panel B
B_LEFT = [39, 110, 180, 251, 322, 392, 463]
TITLE_DX = [0.23, 0.23, 0.23, 0.23, 0.18, 0.23, 0.12]

# row 1: autocorrelation
for i, vals in enumerate(ACF_VALUES):
    ax = add_ax(B_LEFT[i], 463, B_LEFT[i] + 43, 558)
    ax.fill_between(ACF_LAGS, 0, vals, color=RED, lw=0)
    if i == 4:
        style(ax, (0, 500), (-1, 1), [0, 150, 300, 450], ['0', '150', '300', '450'],
              [0, 1], ['0', '1'], fs=6.5, xfs=3.2, xminor=3, yminor=5, major_len=3)
    else:
        style(ax, (0, 500), (0, 1), [0, 150, 300, 450], ['0', '150', '300', '450'],
              [0.5, 1.0], ['0.5', '1.0'], fs=6.5, xfs=3.2, xminor=3, yminor=5, major_len=3)
    ax.text(TITLE_DX[i], 1.0, PARAM_TITLES[i], transform=ax.transAxes, fontsize=10,
            ha='left', va='bottom')

# row 2: traces
TRACES = [
    ([v * 1e-4 for v in TRACE_SIGMA11], (0.000145, 0.00029), [0.0002, 0.00025],
     ['0.00020', '0.00025'], 4.6),
    (TRACE_SIGMA22, (-0.001, 0.04), [0.01, 0.02, 0.03, 0.04],
     ['0.01', '0.02', '0.03', '0.04'], 6.5),
    (TRACE_SIGMA33, (-0.025, 0.88), [0.25, 0.5, 0.75], ['0.25', '0.50', '0.75'], 6.5),
    (TRACE_SIGMA44, (-0.015, 0.6), [0.2, 0.4, 0.6], ['0.2', '0.4', '0.6'], 6.5),
    (TRACE_PHI, (0.9693, 1.0), [0.98, 0.99, 1.0], ['0.98', '0.99', '1.00'], 6.5),
    (TRACE_SIGETA, (-0.02, 0.88), [0.25, 0.5, 0.75], ['0.25', '0.50', '0.75'], 6.5),
    (TRACE_GAMMA, (0, 0.04), [0.01, 0.02, 0.03, 0.04], ['0.01', '0.02', '0.03', '0.04'], 6.5),
]
for i, (vals, ylim, yt, yl, fs) in enumerate(TRACES):
    ax = add_ax(B_LEFT[i], 582, B_LEFT[i] + 46, 679)
    ax.plot(TRACE_STEP * np.arange(len(vals)), vals, color=RED, lw=0.7)
    style(ax, (-300, 22500), ylim, [0, 10000, 20000], ['0', '10000', '20000'],
          yt, yl, fs=fs, xfs=3.2, xminor=5, yminor=5, major_len=3)
    ax.text(TITLE_DX[i], 0.99, PARAM_TITLES[i], transform=ax.transAxes, fontsize=10,
            ha='left', va='bottom')

# row 3: densities
DENS = [
    ([v * 1e-4 for v in DENS_SIGMA11_X], DENS_SIGMA11_Y, (0.00016, 0.0003), (0, 17300),
     [0.0002, 0.00025], ['0.0002', '0.00025'], [5000, 10000, 15000], ['5000', '10000', '15000']),
    (DENS_SIGMA22_X, DENS_SIGMA22_Y, (-0.0007, 0.0466), (0, 108),
     [0, 0.02, 0.04], ['0.00', '0.02', '0.04'], [50, 100], ['50', '100']),
    (DENS_SIGMA33_X, DENS_SIGMA33_Y, (-0.05, 1.08), (0, 20.2),
     [0, 0.5, 1.0], ['0.0', '0.5', '1.0'], [5, 10, 15, 20], ['5', '10', '15', '20']),
    (DENS_SIGMA44_X, DENS_SIGMA44_Y, (-0.05, 1.08), (0, 30),
     [0, 0.5, 1.0], ['0.0', '0.5', '1.0'], [10, 20, 30], ['10', '20', '30']),
    (DENS_PHI_X, DENS_PHI_Y, (0.9715, 1.0025), (0, 200),
     [0.98, 0.99, 1.0], ['0.98', '0.99', '1'], [100, 200], ['100', '200']),
    (DENS_SIGETA_X, DENS_SIGETA_Y, (-0.04, 0.92), (0, 3.47),
     [0, 0.25, 0.5, 0.75], ['0', '0.25', '0.5', '0.75'], [1, 2, 3], ['1', '2', '3']),
    (DENS_GAMMA_X, DENS_GAMMA_Y, (-0.0013, 0.057), (0, 129),
     [0, 0.025, 0.05], ['0', '0.025', '0.05'], [50, 100], ['50', '100']),
]
B3_LEFT = [40, 110, 180, 251, 322, 393, 463]
for i, (xv, yv, xlim, ylim, xt, xl, yt, yl) in enumerate(DENS):
    ax = add_ax(B3_LEFT[i], 702, B3_LEFT[i] + 46, 793)
    ax.plot(xv, yv, color=RED, lw=1.1)
    style(ax, xlim, ylim, xt, xl, yt, yl, fs=6.5, xfs=3.2, xminor=5, yminor=5,
          major_len=3)
    ax.text(TITLE_DX[i], 1.0, PARAM_TITLES[i], transform=ax.transAxes, fontsize=10,
            ha='left', va='bottom')

fig.savefig('out.png', dpi=100)
